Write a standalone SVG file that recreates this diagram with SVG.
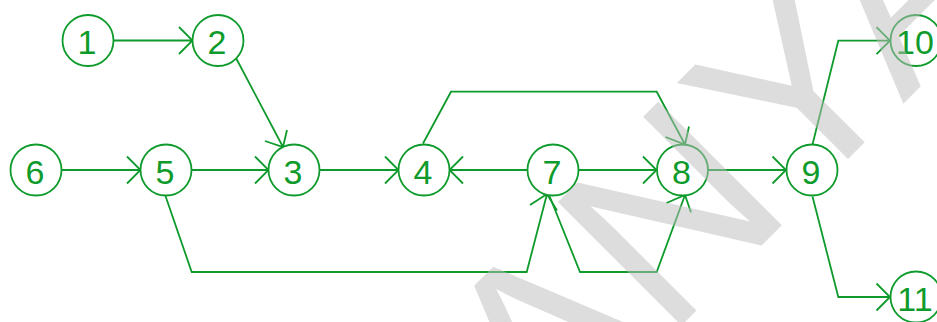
<svg xmlns="http://www.w3.org/2000/svg" width="937" height="322" viewBox="0 0 937 322">
<style>
.n circle{fill:#fff;stroke:#0e9b2c;stroke-width:1.8}
.n text{font-family:"Liberation Sans",Arial,sans-serif;font-size:34px;fill:#0e9b2c;text-anchor:middle}
.e path{fill:none;stroke:#0e9b2c;stroke-width:1.8;stroke-linejoin:miter}
.wm{font-family:"Liberation Sans",Arial,sans-serif;font-size:254px;fill:#bdbdbd;opacity:0.5}
</style>
<rect width="937" height="322" fill="#fff"/>
<g id="connectors" class="e">
<path d="M113.5,40.5H192.5M179,27L192.5,40.5L179,54"/>
<path d="M236,58L283,147M287,130L283,147L265,141"/>
<path d="M61.5,170H140.5M127,156.5L140.5,170L127,183.5"/>
<path d="M191.5,170H268.5M255,156.5L268.5,170L255,183.5"/>
<path d="M320,170H398.5M385,156.5L398.5,170L385,183.5"/>
<path d="M527.5,170H449.5M463,156.5L449.5,170L463,183.5"/>
<path d="M578.5,170H656.5M643,156.5L656.5,170L643,183.5"/>
<path d="M708,170H786M772.5,156.5L786,170L772.5,183.5"/>
<path d="M423,143.5L451,91.7H656.7L685,144.5M689,126.5L685,144.5L665.5,137"/>
<path d="M165.5,196L191.7,272H526.7L547,194M530,205L547,194L557,210.5"/>
<path d="M549.5,196L580,272H656.7L685,195M666.5,203L685,195L691,212.5"/>
<path d="M812.5,144.5L838.3,40.7H890M876.5,27.2L890,40.7L876.5,54.2"/>
<path d="M812.5,196.5L838.3,297H890M876.5,283.5L890,297L876.5,310.5"/>
</g>
<g id="node1" class="n"><circle cx="88" cy="40.5" r="25.5"/><text x="87" y="54">1</text></g>
<g id="node2" class="n"><circle cx="218" cy="40.5" r="25.5"/><text x="217" y="54">2</text></g>
<g id="node3" class="n"><circle cx="294" cy="170" r="25.5"/><text x="293" y="183.5">3</text></g>
<g id="node4" class="n"><circle cx="424" cy="170" r="25.5"/><text x="423" y="183.5">4</text></g>
<g id="node5" class="n"><circle cx="166" cy="170" r="25.5"/><text x="165" y="183.5">5</text></g>
<g id="node6" class="n"><circle cx="36" cy="170" r="25.5"/><text x="35" y="183.5">6</text></g>
<g id="node7" class="n"><circle cx="553" cy="170" r="25.5"/><text x="552" y="183.5">7</text></g>
<g id="node8" class="n"><circle cx="682.5" cy="170" r="25.5"/><text x="681.5" y="183.5">8</text></g>
<g id="node9" class="n"><circle cx="812" cy="170" r="25.5"/><text x="811" y="183.5">9</text></g>
<g id="node10" class="n"><circle cx="916" cy="40.5" r="25.5"/><text x="915" y="54">10</text></g>
<g id="node11" class="n"><circle cx="916" cy="297" r="25.5"/><text x="915" y="310.5">11</text></g>
<text class="wm" transform="translate(547,460) rotate(-45)">ANYA</text>
</svg>
